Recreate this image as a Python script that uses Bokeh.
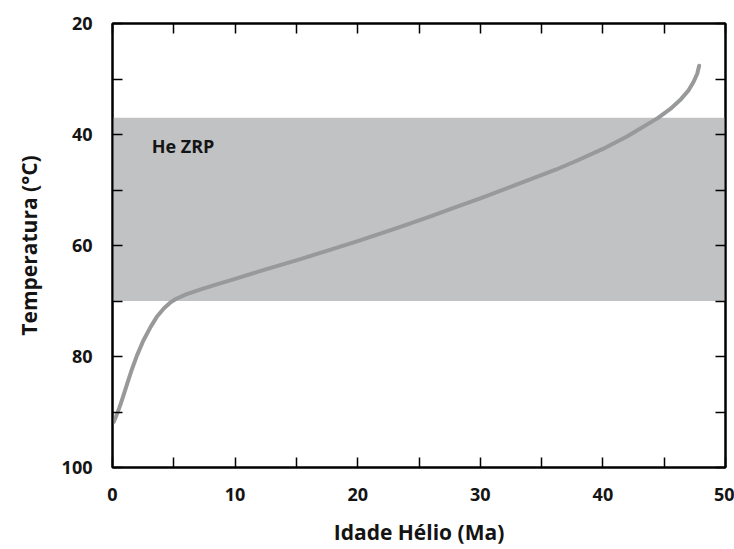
from bokeh.plotting import figure
from bokeh.models import Range1d, LinearAxis, FixedTicker, Label
from bokeh.embed import file_html
from bokeh.resources import INLINE

# Data
age_ma = [0.1, 0.3, 0.55, 0.85, 1.2, 1.6, 2.0, 2.5, 3.1, 3.6, 4.2, 4.7, 5.2, 6.0, 7.2,
          8.5, 10.0, 12.5, 15.4, 18.0, 20.0, 23.0, 26.0, 28.0, 30.0, 33.0, 36.2, 38.0,
          40.0, 42.0, 44.5, 45.5, 46.3, 47.0, 47.4, 47.7, 47.85]
temp_c = [91.8, 90.7, 89.3, 87.3, 84.9, 82.2, 79.8, 77.2, 74.7, 72.9, 71.3, 70.3, 69.6,
          68.8, 67.9, 67.0, 66.0, 64.3, 62.4, 60.6, 59.2, 57.0, 54.7, 53.1, 51.5, 49.0,
          46.3, 44.6, 42.6, 40.3, 37.0, 35.4, 33.8, 32.0, 30.5, 29.0, 27.6]

prz_top = 37      # He ZRP upper temperature
prz_bottom = 70   # He ZRP lower temperature
prz_label = "He ZRP"

x_major = [0, 10, 20, 30, 40, 50]
x_minor = [5, 15, 25, 35, 45]
y_major = [20, 40, 60, 80, 100]
y_minor = [30, 50, 70, 90]

FONT = "Open Sans"
TXT = "#141414"

p = figure(width=734, height=549, output_backend="svg", toolbar_location=None,
           x_range=Range1d(0, 50), y_range=Range1d(100, 20),
           x_axis_label="Idade Hélio (Ma)", y_axis_label="Temperatura (°C)",
           min_border_left=112, min_border_right=9, min_border_top=23,
           min_border_bottom=82)
p.background_fill_color = "white"
p.border_fill_color = "white"
p.xgrid.visible = False
p.ygrid.visible = False
p.outline_line_color = "black"
p.outline_line_width = 2

# He ZRP band
p.quad(left=[p.x_range.start], right=[p.x_range.end], bottom=[prz_bottom], top=[prz_top],
       fill_color="#c1c2c4", line_color=None)

# Curve
p.line(age_ma, temp_c, line_color="#98999b", line_width=4, line_cap="round",
       line_join="round")

p.add_layout(Label(x=3.2, y=42, text=prz_label, text_font=FONT, text_font_style="bold",
                   text_font_size="18px", text_color=TXT,
                   text_baseline="middle", text_align="left"))

def style(ax, major, minor):
    ax.ticker = FixedTicker(ticks=major, minor_ticks=minor)
    ax.axis_line_color = "black"
    ax.axis_line_width = 2
    ax.major_tick_in = 10
    ax.major_tick_out = 0
    ax.minor_tick_in = 10
    ax.minor_tick_out = 0
    ax.major_tick_line_color = "black"
    ax.minor_tick_line_color = "black"
    ax.major_tick_line_width = 1.5
    ax.minor_tick_line_width = 1.5
    ax.major_label_text_font = FONT
    ax.major_label_text_font_style = "bold"
    ax.major_label_text_font_size = "18px"
    ax.major_label_text_color = TXT
    ax.axis_label_text_font = FONT
    ax.axis_label_text_font_style = "bold"
    ax.axis_label_text_font_size = "21px"
    ax.axis_label_text_color = TXT

xa = p.xaxis[0]
style(xa, x_major, x_minor)
xa.major_label_standoff = 20
xa.axis_label_standoff = 14

ya = p.yaxis[0]
style(ya, y_major, y_minor)
ya.major_label_standoff = 20
ya.axis_label_standoff = 16

# top and right axes: tick marks only
top = LinearAxis()
style(top, [], x_major + x_minor)
p.add_layout(top, "above")
right = LinearAxis()
style(right, [], y_major + y_minor)
p.add_layout(right, "right")

open("out.html", "w").write(file_html(p, INLINE))
